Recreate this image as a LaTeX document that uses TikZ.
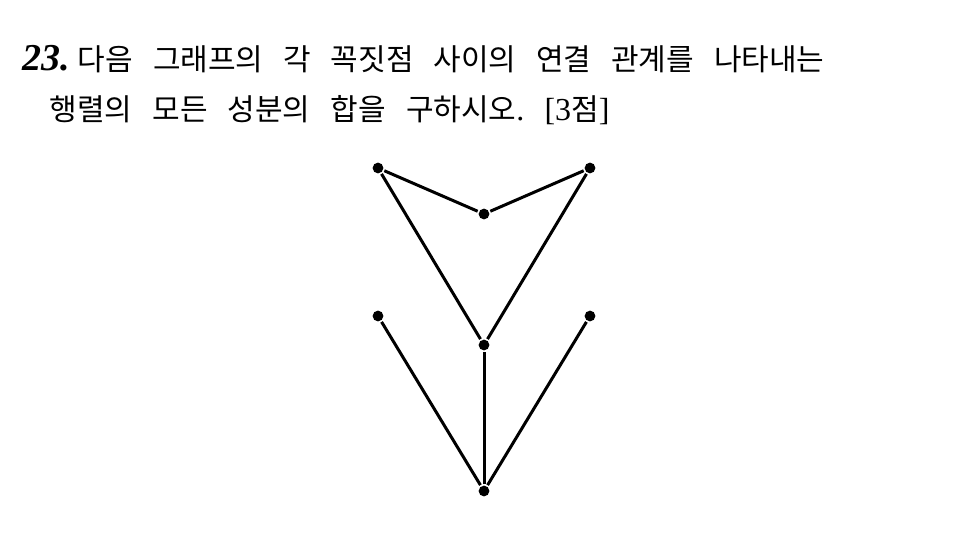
\documentclass[tikz,border=0pt]{standalone}
\usepackage{fontspec}
\setmainfont{Liberation Serif}
\newfontfamily\kr{Noto Sans CJK KR}
\frenchspacing

\begin{document}
\begin{tikzpicture}[world/.style={inner sep=1.9pt, fill=black, circle}, x=0.5pt, y=-0.5pt, line width=1.5pt]
\useasboundingbox (0,0) rectangle (960,546);

\node[anchor=base west, inner sep=0] (q1) at (21,70) {\makebox[401pt][s]{\fontsize{19}{22}\selectfont\bfseries\itshape 23.\hspace{4pt}\fontsize{15}{18}\selectfont\mdseries\upshape\kr 다음 그래프의 각 꼭짓점 사이의 연결 관계를 나타내는}};
\node[anchor=base west, inner sep=0] (q2) at (48,120) {\makebox[280pt][s]{\fontsize{15}{18}\selectfont\kr 행렬의 모든 성분의 합을 구하시오{\rmfamily\fontsize{16}{18}\selectfont.} {\rmfamily\fontsize{16}{18}\selectfont[3}점{\rmfamily\fontsize{16}{18}\selectfont]}}};

\node[world] (v1) at (484,491) {};
\node[world] (v2) at (484,345) {};
\node[world] (v3) at (378,316) {};
\node[world] (v4) at (590,316) {};
\node[world] (v5) at (378,168) {};
\node[world] (v6) at (590,168) {};
\node[world] (v7) at (484,214) {};
\draw  (v1) edge (v2);
\draw  (v1) edge (v3);
\draw  (v1) edge (v4);
\draw  (v2) edge (v5);
\draw  (v2) edge (v6);
\draw  (v5) edge (v7);
\draw  (v7) edge (v6);
\end{tikzpicture}
\end{document}
